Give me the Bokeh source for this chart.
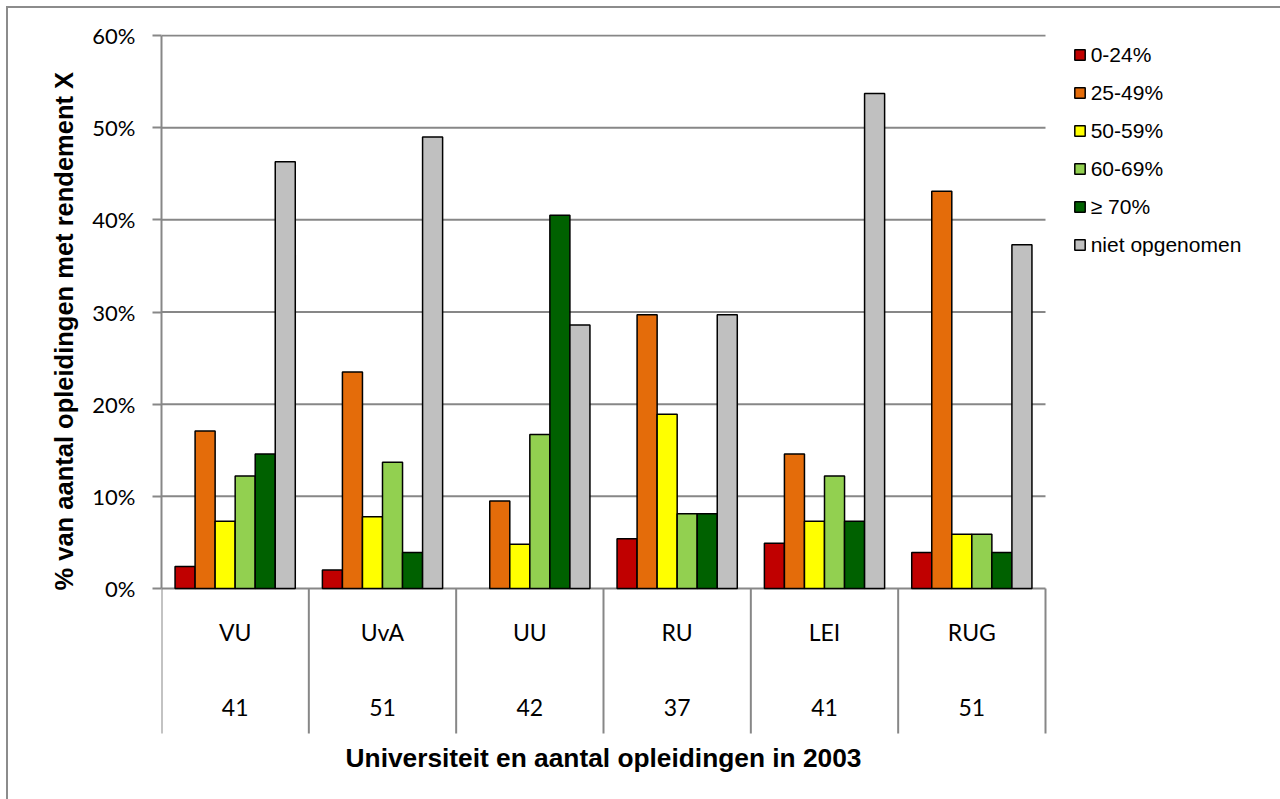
from bokeh.plotting import figure
from bokeh.models import (Range1d, FixedTicker, Legend, LegendItem, Title, Label,
                          ColumnDataSource)
from bokeh.core.properties import value
from bokeh.embed import file_html
from bokeh.resources import INLINE

# ---------------- data ----------------
universities = ["VU", "UvA", "UU", "RU", "LEI", "RUG"]
counts = ["41", "51", "42", "37", "41", "51"]
series = ["0-24%", "25-49%", "50-59%", "60-69%", "\u2265 70%", "niet opgenomen"]
colors = ["#C00000", "#E46C0A", "#FFFF00", "#92D050", "#006100", "#C0C0C0"]

v_0_24 = [2.4, 2.0, 0.0, 5.4, 4.9, 3.9]
v_25_49 = [17.1, 23.5, 9.5, 29.7, 14.6, 43.1]
v_50_59 = [7.3, 7.8, 4.8, 18.9, 7.3, 5.9]
v_60_69 = [12.2, 13.7, 16.7, 8.1, 12.2, 5.9]
v_70 = [14.6, 3.9, 40.5, 8.1, 7.3, 3.9]
v_niet = [46.3, 49.0, 28.6, 29.7, 53.7, 37.3]
all_values = [v_0_24, v_25_49, v_50_59, v_60_69, v_70, v_niet]

y_ticks = [0, 10, 20, 30, 40, 50, 60]
y_title = "% van aantal opleidingen met rendement  X"
x_title = "Universiteit en aantal opleidingen in 2003"

# ---------------- figure ----------------
GRID = "#878787"
n_cat = len(universities)
cat_bottom = -15.73          # lower end of the category-label area (below 0%)
p = figure(width=1280, height=799,
           x_range=Range1d(0, 7.595), y_range=Range1d(-22.89, 60.108),
           output_backend="svg", toolbar_location=None,
           min_border_left=161, min_border_right=0,
           min_border_top=34, min_border_bottom=0)
p.outline_line_color = None
p.background_fill_color = "white"
p.border_fill_color = None
p.styles = {
    "background-color": "white",
    "background-image": "linear-gradient(#8c8c8c, #8c8c8c), linear-gradient(#8c8c8c, #8c8c8c)",
    "background-size": "100% 2px, 2px 100%",
    "background-position": "6px 6px, 6px 6px",
    "background-repeat": "no-repeat",
}
p.grid.visible = False
p.xaxis.visible = False

yaxis = p.yaxis[0]
yaxis.ticker = FixedTicker(ticks=y_ticks)
yaxis.bounds = (0, 60)
yaxis.major_label_overrides = {t: f"{t}%" for t in y_ticks}
yaxis.axis_line_color = GRID
yaxis.axis_line_width = 2
yaxis.major_tick_line_color = GRID
yaxis.major_tick_line_width = 2
yaxis.major_tick_out = 9
yaxis.major_tick_in = 0
yaxis.minor_tick_line_color = None
yaxis.major_label_standoff = 17
yaxis.major_label_text_font = "Lato"
yaxis.major_label_text_font_size = "22px"
yaxis.major_label_text_color = "#000000"

# horizontal gridlines over the plot area only
p.segment(x0=[0] * len(y_ticks), x1=[n_cat] * len(y_ticks), y0=y_ticks, y1=y_ticks,
          line_color=GRID, line_width=2)

# ---------------- bars ----------------
bar_w = 0.136
items = []
for k, (name, col, vals) in enumerate(zip(series, colors, all_values)):
    xs = [i + 0.5 + (k - 2.5) * bar_w for i in range(n_cat)]
    lc = ["black" if v > 0 else "rgba(0,0,0,0)" for v in vals]
    src = ColumnDataSource(dict(x=xs, top=vals, lc=lc))
    r = p.vbar(x="x", top="top", bottom=0, width=bar_w, source=src,
               fill_color=col, line_color="lc", line_width=1.5)
    items.append(LegendItem(label=name, renderers=[r]))

# ---------------- category separators & labels ----------------
sep_x = list(range(n_cat + 1))
p.segment(x0=sep_x, y0=[0] * len(sep_x), x1=sep_x, y1=[cat_bottom] * len(sep_x),
          line_color=GRID, line_width=2)

centers = [i + 0.5 for i in range(n_cat)]
lab_src = ColumnDataSource(dict(x=centers, y1=[-4.7] * n_cat, y2=[-12.9] * n_cat,
                                uni=universities, cnt=counts))
for ycol, tcol in (("y1", "uni"), ("y2", "cnt")):
    p.text(x="x", y=ycol, text=tcol, source=lab_src,
           text_font=value("Lato"), text_font_size="23px", text_color="#000000",
           text_align="center", text_baseline="middle")

# ---------------- axis titles ----------------
p.add_layout(Label(x=n_cat / 2, y=-18.44, text=x_title,
                   text_align="center", text_baseline="middle",
                   text_font="Liberation Sans", text_font_style="bold",
                   text_font_size="26.3px", text_color="#000000"))

p.add_layout(Title(text=y_title, align="left", offset=209, standoff=24,
                   text_font="Liberation Sans", text_font_style="bold",
                   text_font_size="25.5px", text_color="#000000"), "left")

# ---------------- legend ----------------
legend = Legend(items=items, location=(911.7, 542.5),
                label_text_font="Liberation Sans", label_text_font_size="21px",
                label_text_color="#000000",
                glyph_width=13, glyph_height=13, label_height=23,
                label_standoff=5, spacing=14, padding=0, margin=0,
                border_line_color=None, background_fill_alpha=0)
p.add_layout(legend)

open("out.html", "w").write(file_html(p, INLINE))
